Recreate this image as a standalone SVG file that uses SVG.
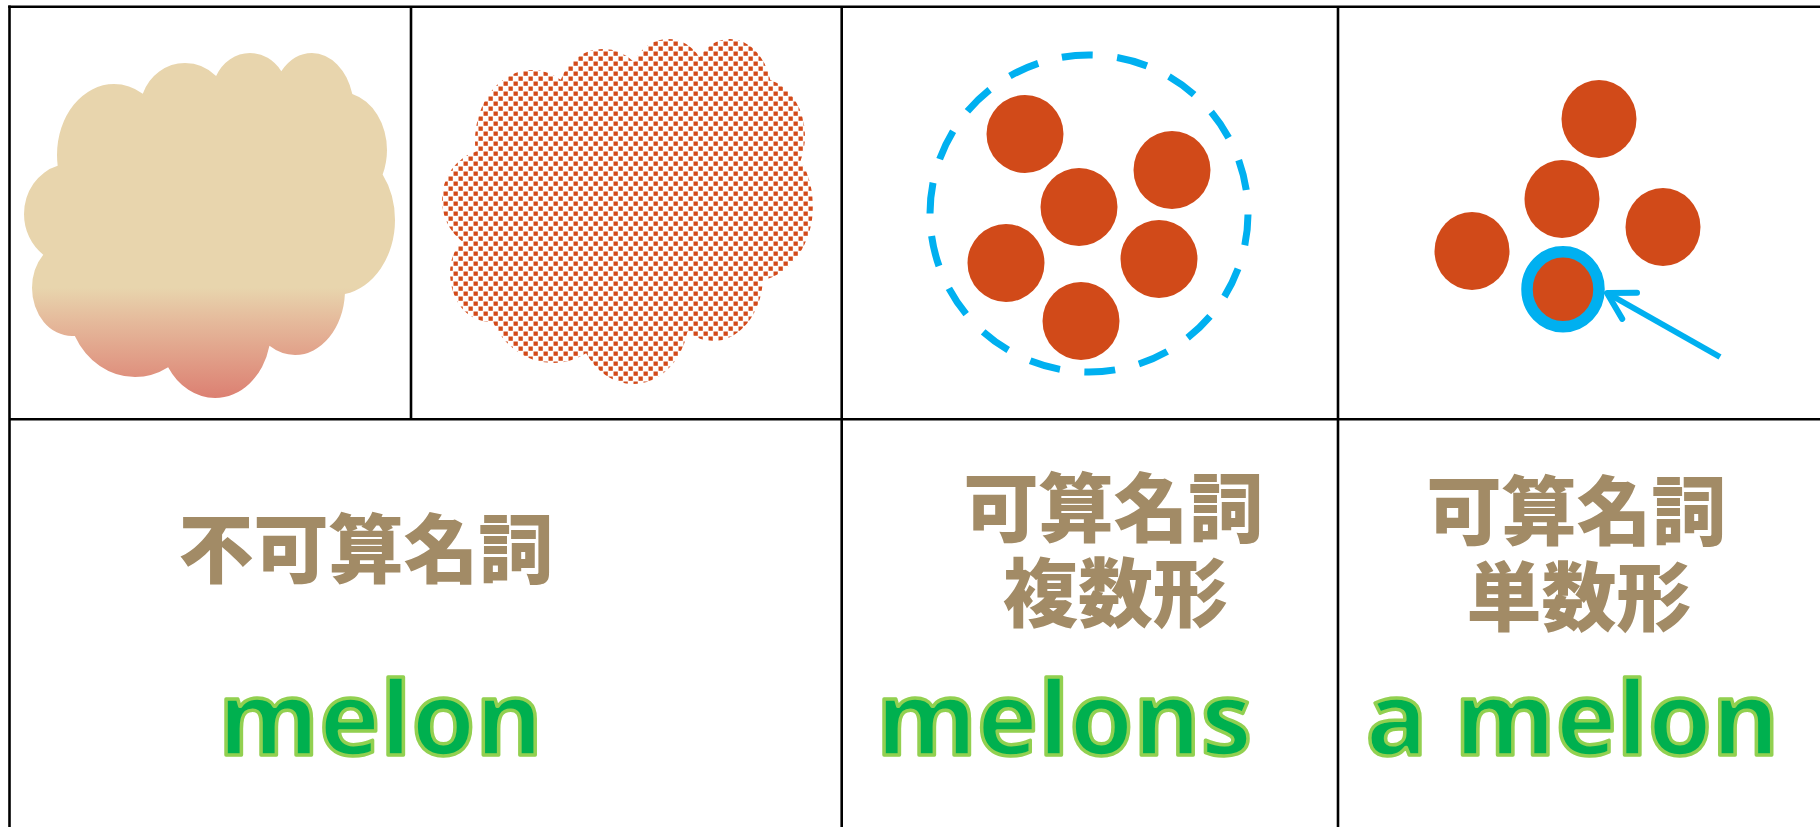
<svg xmlns="http://www.w3.org/2000/svg" width="1820" height="827" viewBox="0 0 1820 827">
  <style>
    .grid { stroke: #000; stroke-width: 2.6; fill: none; }
    .fruit { fill: #D14A19; }
    .jp { font-family: "Noto Sans CJK JP", "Noto Sans CJK SC", sans-serif; font-weight: 900; font-size: 75px; fill: #A28B66; text-anchor: middle; }
    .en { font-family: "Open Sans", "Noto Sans", sans-serif; font-weight: 700; font-size: 103px; fill: #00B04F; stroke: #92D050; stroke-width: 3.5; stroke-linejoin: round; text-anchor: middle; }
    .blue { stroke: #00B0F0; fill: none; }
  </style>
  <defs>
    <linearGradient id="cloudGrad" gradientUnits="userSpaceOnUse" x1="0" y1="53" x2="0" y2="398">
      <stop offset="0" stop-color="#E8D5AD"/>
      <stop offset="0.68" stop-color="#E8D5AD"/>
      <stop offset="0.78" stop-color="#E5B99B"/>
      <stop offset="1" stop-color="#DC8072"/>
    </linearGradient>
    <pattern id="dots" patternUnits="userSpaceOnUse" width="10" height="10">
      <rect x="0.5" y="0.5" width="4.3" height="4.3" fill="#D24A1A"/>
      <rect x="5.5" y="5.5" width="4.3" height="4.3" fill="#D24A1A"/>
    </pattern>
    <clipPath id="cloudClip">
      <ellipse cx="114" cy="155" rx="57" ry="71"/>
      <ellipse cx="185" cy="110" rx="45" ry="47"/>
      <ellipse cx="250" cy="95" rx="38" ry="42"/>
      <ellipse cx="312" cy="110" rx="42" ry="57"/>
      <ellipse cx="340" cy="150" rx="47" ry="58"/>
      <ellipse cx="335" cy="220" rx="60" ry="75"/>
      <ellipse cx="295" cy="290" rx="50" ry="65"/>
      <ellipse cx="215" cy="330" rx="56" ry="68"/>
      <ellipse cx="135" cy="300" rx="68" ry="77"/>
      <ellipse cx="72" cy="288" rx="40" ry="48"/>
      <ellipse cx="70" cy="214" rx="46" ry="50"/>
      <ellipse cx="210" cy="220" rx="140" ry="120"/>
    </clipPath>
    <marker id="openArrow" markerUnits="userSpaceOnUse" markerWidth="60" markerHeight="60" refX="30" refY="30" orient="auto" overflow="visible">
      <path d="M4,15 L30,30 L4,45" fill="none" stroke="#00B0F0" stroke-width="6" stroke-linecap="round" stroke-linejoin="round"/>
    </marker>
  </defs>

  <rect width="1820" height="827" fill="#fff"/>

  <g id="table">
    <line class="grid" x1="8.2" y1="6.7" x2="1820" y2="6.7"/>
    <line class="grid" x1="9.5" y1="5.4" x2="9.5" y2="827"/>
    <line class="grid" x1="9.5" y1="419.3" x2="1820" y2="419.3"/>
    <line class="grid" x1="411" y1="6.7" x2="411" y2="419.3"/>
    <line class="grid" x1="841.7" y1="6.7" x2="841.7" y2="827"/>
    <line class="grid" x1="1338" y1="6.7" x2="1338" y2="827"/>
  </g>

  <g id="cloud-gradient">
    <rect x="0" y="40" width="420" height="370" fill="url(#cloudGrad)" clip-path="url(#cloudClip)"/>
  </g>

  <g id="cloud-dotted" transform="translate(418,-14)">
    <rect x="0" y="40" width="420" height="370" fill="url(#dots)" clip-path="url(#cloudClip)"/>
  </g>

  <g id="plural-group">
    <path class="blue" stroke-width="7" stroke-dasharray="31 24.5" d="M930,213.5 A159,158.5 0 1 1 1248,213.5 A159,158.5 0 1 1 930,213.5"/>
    <ellipse class="fruit" cx="1025" cy="134" rx="38.5" ry="39"/>
    <ellipse class="fruit" cx="1172" cy="170" rx="38.5" ry="39"/>
    <ellipse class="fruit" cx="1079" cy="207" rx="38.5" ry="39"/>
    <ellipse class="fruit" cx="1006" cy="263" rx="38.5" ry="39"/>
    <ellipse class="fruit" cx="1159" cy="259" rx="38.5" ry="39"/>
    <ellipse class="fruit" cx="1081" cy="321" rx="38.5" ry="39"/>
  </g>

  <g id="singular-group">
    <ellipse class="fruit" cx="1599" cy="119" rx="37.5" ry="39"/>
    <ellipse class="fruit" cx="1562" cy="199" rx="37.5" ry="39"/>
    <ellipse class="fruit" cx="1663" cy="227" rx="37.5" ry="39"/>
    <ellipse class="fruit" cx="1472" cy="251" rx="37.5" ry="39"/>
    <ellipse class="fruit" cx="1563" cy="289" rx="37.5" ry="39"/>
    <ellipse class="blue" stroke-width="11.5" cx="1563" cy="289.3" rx="36" ry="37.5"/>
  </g>

  <g id="connectors">
    <path class="blue" stroke-width="6" d="M1720,357 L1607,293" marker-end="url(#openArrow)"/>
  </g>

  <g id="label-uncountable">
    <text class="jp" x="366" y="577">不可算名詞</text>
    <text class="en" x="380.5" y="755">melon</text>
  </g>

  <g id="label-plural">
    <text class="jp"><tspan x="1113.5" y="536">可算名詞</tspan><tspan x="1115.5" y="621">複数形</tspan></text>
    <text class="en" x="1064" y="755">melons</text>
  </g>

  <g id="label-singular">
    <text class="jp"><tspan x="1576.5" y="539">可算名詞</tspan><tspan x="1579" y="625">単数形</tspan></text>
    <text class="en" x="1572.5" y="755">a melon</text>
  </g>
</svg>
